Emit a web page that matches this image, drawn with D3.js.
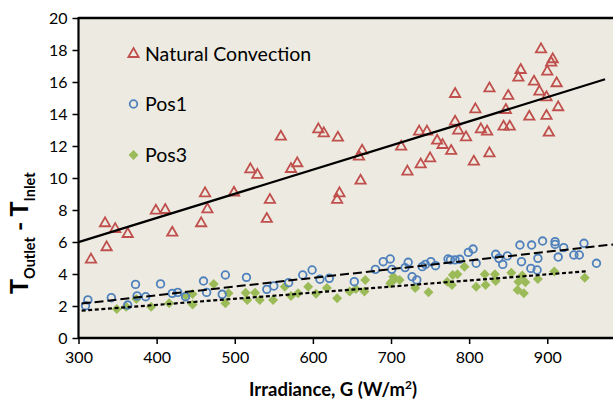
<!DOCTYPE html>
<html><head><meta charset="utf-8">
<script src="https://cdn.jsdelivr.net/npm/d3@7"></script>
<style>
html,body{margin:0;padding:0;background:#fff;}
svg{display:block;font-family:Lato,"Open Sans",sans-serif;}
</style></head>
<body><svg id="c" width="613" height="403"></svg>
<script>
// ---------- data ----------
const xTicks = [300, 400, 500, 600, 700, 800, 900];
const yTicks = [0, 2, 4, 6, 8, 10, 12, 14, 16, 18, 20];
const seriesNames = ["Natural Convection", "Pos1", "Pos3"];

const ncX = [316,334,336,347,363,399,411,420,457,462,465,499,520,529,541,545,559,572,580,607,614,631,634,632,659,661,663,713,721,738,736,746,750,759,766,777,782,782,786,796,806,808,815,823,826,826,844,847,850,852,863,866,877,883,890,892,899,900,899,902,905,907,912,914];
const ncY = [4.9,7.17,5.67,6.81,6.5,7.96,8.0,6.58,7.17,9.04,8.04,9.08,10.54,10.2,7.44,8.63,12.58,10.56,10.92,13.04,12.79,8.63,9.04,12.52,11.33,9.83,11.71,11.96,10.4,10.85,12.9,12.9,11.23,12.33,12.06,11.69,15.25,13.52,12.96,12.54,11.02,14.29,13.04,12.9,15.6,11.54,13.21,14.25,15.13,13.21,16.27,16.75,13.83,16.02,15.4,18.04,15.04,16.65,13.88,12.83,17.21,17.42,15.92,14.42];

const pos1X = [309,312,342,363,373,375,386,405,420,427,437,460,464,484,488,515,541,550,569,587,599,609,621,653,680,690,699,701,718,722,727,733,740,744,751,757,773,776,782,788,799,805,809,834,838,849,843,865,867,880,879,887,888,894,910,910,914,921,934,941,947,963];
const pos1Y = [2.02,2.38,2.52,2.06,3.35,2.63,2.58,3.38,2.79,2.85,2.58,3.56,2.85,2.73,3.94,3.79,3.04,3.25,3.46,3.94,4.25,3.67,3.73,3.52,4.29,4.77,4.94,4.29,4.4,4.73,3.83,3.63,4.46,4.6,4.77,4.52,4.94,4.88,4.88,4.92,5.35,5.56,4.67,5.23,4.98,5.13,4.6,5.81,4.77,5.81,4.35,4.25,4.98,6.06,6.02,5.85,5.06,5.65,5.19,5.19,5.92,4.67];

const pos3X = [349,361,374,393,416,437,446,446,473,488,492,514,516,526,532,549,564,572,581,594,604,618,631,647,655,666,667,699,701,703,704,711,731,748,772,778,779,785,794,809,820,821,833,834,854,862,863,868,870,872,888,909,948];
const pos3Y = [1.81,1.96,2.44,1.96,2.17,2.65,2.75,2.1,3.38,2.17,2.79,2.83,2.38,2.83,2.38,2.38,3.21,2.63,2.79,3.21,2.77,3.13,2.48,2.9,3.06,2.9,3.63,3.42,3.52,3.83,3.67,3.63,3.13,2.86,3.52,3.31,3.94,3.98,4.46,3.21,3.98,3.31,3.98,3.56,4.08,3.0,3.52,3.9,2.79,3.48,3.69,4.15,3.77];

// linear trendlines (y = a + b*(x-300)) and their x extents
const trendA  = [5.99, 2.13, 1.69];
const trendB  = [0.0151, 0.00543, 0.00381];
const trendX0 = [300, 304, 304];
const trendX1 = [974, 1000, 950];

// ---------- chart ----------
(function draw() {
const W = 613, H = 403;
const svg = d3.select("#c");
const x = d3.scaleLinear().domain([300, 1000]).range([78.5, 625.4]);
const y = d3.scaleLinear().domain([0, 20]).range([338, 18]);
const pL = x(300), pR = W, pT = y(20), pB = y(0);

const colors = {nc: "#C0504D", p1: "#4F81BD", p3: "#9BBB59"};

svg.append("defs").append("clipPath").attr("id", "plotclip")
  .append("rect").attr("x", pL).attr("y", pT - 2).attr("width", pR - pL).attr("height", pB - pT + 4);

svg.append("rect").attr("x", pL).attr("y", pT).attr("width", pR - pL).attr("height", pB - pT)
  .attr("fill", "#EDEBE1");

const plot = svg.append("g").attr("clip-path", "url(#plotclip)");

const tri = d3.symbol().type(d3.symbolTriangle).size(46);
const dia = d3.symbol().type(d3.symbolSquare).size(50);

plot.append("g").selectAll("path").data(pos3X.map((v, i) => [v, pos3Y[i]])).join("path")
  .attr("d", dia).attr("transform", d => `translate(${x(d[0])},${y(d[1])}) rotate(45)`)
  .attr("fill", colors.p3);
plot.append("g").selectAll("circle").data(pos1X.map((v, i) => [v, pos1Y[i]])).join("circle")
  .attr("cx", d => x(d[0])).attr("cy", d => y(d[1])).attr("r", 3.8)
  .attr("fill", "none").attr("stroke", colors.p1).attr("stroke-width", 1.8);
plot.append("g").selectAll("path").data(ncX.map((v, i) => [v, ncY[i]])).join("path")
  .attr("d", tri).attr("transform", d => `translate(${x(d[0])},${y(d[1])})`)
  .attr("fill", "none").attr("stroke", colors.nc).attr("stroke-width", 1.8);

const dashes = [null, "9,4", "4,2.6"];
const widths = [2.2, 2, 2.2];
trendA.forEach((a, i) => {
  const pts = [trendX0[i], trendX1[i]].map(v => [v, a + trendB[i] * (v - 300)]);
  plot.append("path").attr("d", d3.line().x(d => x(d[0])).y(d => y(d[1]))(pts))
    .attr("fill", "none").attr("stroke", "#000").attr("stroke-width", widths[i])
    .attr("stroke-dasharray", dashes[i]);
});

const xAxis = svg.append("g").attr("transform", `translate(0,${pB})`)
  .call(d3.axisBottom(x).tickValues(xTicks).tickSize(6).tickPadding(8).tickFormat(d3.format("d")));
const yAxis = svg.append("g").attr("transform", `translate(${pL},0)`)
  .call(d3.axisLeft(y).tickValues(yTicks).tickSize(6).tickPadding(5).tickFormat(d3.format("d")));
[xAxis, yAxis].forEach(g => {
  g.select(".domain").remove();
  g.selectAll(".tick line").attr("stroke", "#000").attr("stroke-width", 1.5);
  g.selectAll(".tick text").attr("fill", "#000").attr("font-size", 16).attr("font-family", "Lato");
});
svg.append("line").attr("x1", pL).attr("x2", pR).attr("y1", pB).attr("y2", pB)
  .attr("stroke", "#000").attr("stroke-width", 2.5);
svg.append("line").attr("x1", pL).attr("x2", pL).attr("y1", pT - 1).attr("y2", pB + 1)
  .attr("stroke", "#000").attr("stroke-width", 2.2);
svg.append("line").attr("x1", pL).attr("x2", pR).attr("y1", pT).attr("y2", pT)
  .attr("stroke", "#000").attr("stroke-width", 2.5);

const xt = svg.append("text").attr("x", 333).attr("y", 396).attr("text-anchor", "middle")
  .attr("font-weight", "bold").attr("font-size", 18.5).attr("fill", "#000");
xt.append("tspan").text("Irradiance, G (W/m");
xt.append("tspan").text("2").attr("font-size", 12).attr("baseline-shift", "super");
xt.append("tspan").text(")");

const yt = svg.append("text").attr("transform", "translate(28,294) rotate(-90)")
  .attr("text-anchor", "start").attr("font-weight", "bold").attr("fill", "#000");
yt.append("tspan").text("T").attr("font-size", 25);
yt.append("tspan").text("Outlet").attr("font-size", 14.5).attr("dy", 7);
yt.append("tspan").text(" - ").attr("font-size", 25).attr("dy", -7);
yt.append("tspan").text("T").attr("font-size", 25);
yt.append("tspan").text("Inlet").attr("font-size", 14.5).attr("dy", 7);

const lg = svg.append("g");
const legY = [54, 104, 155];
const legShapes = ["tri", "circ", "dia"];
seriesNames.forEach((name, i) => {
  const cx = 133.5, cy = legY[i];
  if (legShapes[i] === "tri") {
    lg.append("path").attr("d", tri).attr("transform", `translate(${cx},${cy})`)
      .attr("fill", "none").attr("stroke", colors.nc).attr("stroke-width", 1.8);
  } else if (legShapes[i] === "circ") {
    lg.append("circle").attr("cx", cx).attr("cy", cy).attr("r", 3.8)
      .attr("fill", "none").attr("stroke", colors.p1).attr("stroke-width", 1.8);
  } else {
    lg.append("path").attr("d", dia).attr("transform", `translate(${cx},${cy}) rotate(45)`)
      .attr("fill", colors.p3);
  }
  lg.append("text").attr("x", 145).attr("y", cy + 7).attr("font-size", 19.5).attr("fill", "#000")
    .text(name);
});
})();
</script>
</body></html>
